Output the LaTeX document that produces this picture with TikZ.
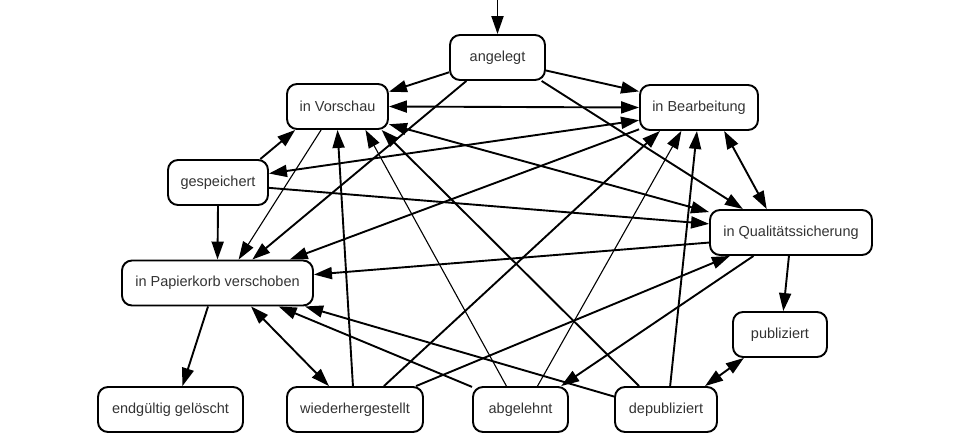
\documentclass[tikz,border=0pt]{standalone}
\usepackage{fontspec}
\setmainfont{Liberation Sans}
\usetikzlibrary{arrows.meta}

\begin{document}
\begin{tikzpicture}[x=1pt, y=-1pt]
  \tikzstyle{state}=[rectangle, rounded corners=10pt, draw, line width=1.9pt, minimum height=45pt, inner sep=0pt, font=\fontsize{14.5}{17}\selectfont, text=black!80]
  \tikzstyle{edge}=[line width=1.9pt, -{Triangle[length=18pt, width=12pt]}]
  \tikzstyle{both}=[line width=1.9pt, {Triangle[length=18pt, width=12pt]}-{Triangle[length=18pt, width=12pt]}]
  \tikzstyle{faint}=[line width=1.1pt, -{Triangle[length=18pt, width=12pt]}]
  \useasboundingbox (0,0) rectangle (957,444);
  \coordinate (start) at (497.5,0);
  \node [state, minimum width=95pt] at (497.5,57.5) (angelegt) {angelegt};
  \node [state, minimum width=101pt] at (337.5,106.5) (vorschau) {in Vorschau};
  \node [state, minimum width=118pt] at (699,107.5) (bearbeitung) {in Bearbeitung};
  \node [state, minimum width=100pt] at (218,182.5) (gespeichert) {gespeichert};
  \node [state, minimum width=162pt] at (791,232.5) (qs) {in Qualitätssicherung};
  \node [state, minimum width=191pt] at (217.5,283) (papierkorb) {in Papierkorb verschoben};
  \node [state, minimum width=94pt] at (780,334.5) (publiziert) {publiziert};
  \node [state, minimum width=145pt] at (170.5,409.5) (geloescht) {endgültig gelöscht};
  \node [state, minimum width=136pt] at (355,409.5) (wieder) {wiederhergestellt};
  \node [state, minimum width=95pt] at (520.5,409.5) (abgelehnt) {abgelehnt};
  \node [state, minimum width=102pt] at (666,409.5) (depubliziert) {depubliziert};
  \draw [edge] (start) -- (angelegt.north);
  \draw [edge] (angelegt.197) -- (vorschau.16);
  \draw [edge] (angelegt.-15) -- (bearbeitung.165);
  \draw [edge] (angelegt.217) -- (papierkorb.34);
  \draw [edge] (angelegt.-28) -- (qs.154);
  \draw [both] (vorschau.east) -- (bearbeitung.west);
  \draw [both] (vorschau.-19) -- (qs.166);
  \draw [faint] (vorschau.235) -- (papierkorb.48);
  \draw [edge] (gespeichert.29) -- (vorschau.209);
  \draw [both] (gespeichert.10) -- (bearbeitung.192);
  \draw [edge] (gespeichert.-6) -- (qs.174);
  \draw [edge] (gespeichert.south) -- (papierkorb.north);
  \draw [edge] (bearbeitung.200) -- (papierkorb.18);
  \draw [both] (bearbeitung.-43) -- (qs.136);
  \draw [edge] (qs.187) -- (papierkorb.5);
  \draw [edge] (qs.265) -- (publiziert.82);
  \draw [edge] (qs.212) -- (abgelehnt.30);
  \draw [edge] (papierkorb.248) -- (geloescht.63);
  \draw [both] (papierkorb.-35) -- (wieder.138);
  \draw [edge] (wieder.95) -- (vorschau.south);
  \draw [edge] (wieder.39) -- (bearbeitung.211);
  \draw [edge] (wieder.21) -- (qs.201);
  \draw [faint] (abgelehnt.121) -- (vorschau.-40);
  \draw [faint] (abgelehnt.54) -- (bearbeitung.233);
  \draw [edge] (abgelehnt.155) -- (papierkorb.-21);
  \draw [edge] (depubliziert.139) -- (vorschau.-28);
  \draw [edge] (depubliziert.80) -- (bearbeitung.265);
  \draw [edge] (depubliziert.166) -- (papierkorb.-15);
  \draw [both] (depubliziert.31) -- (publiziert.213);
\end{tikzpicture}
\end{document}
